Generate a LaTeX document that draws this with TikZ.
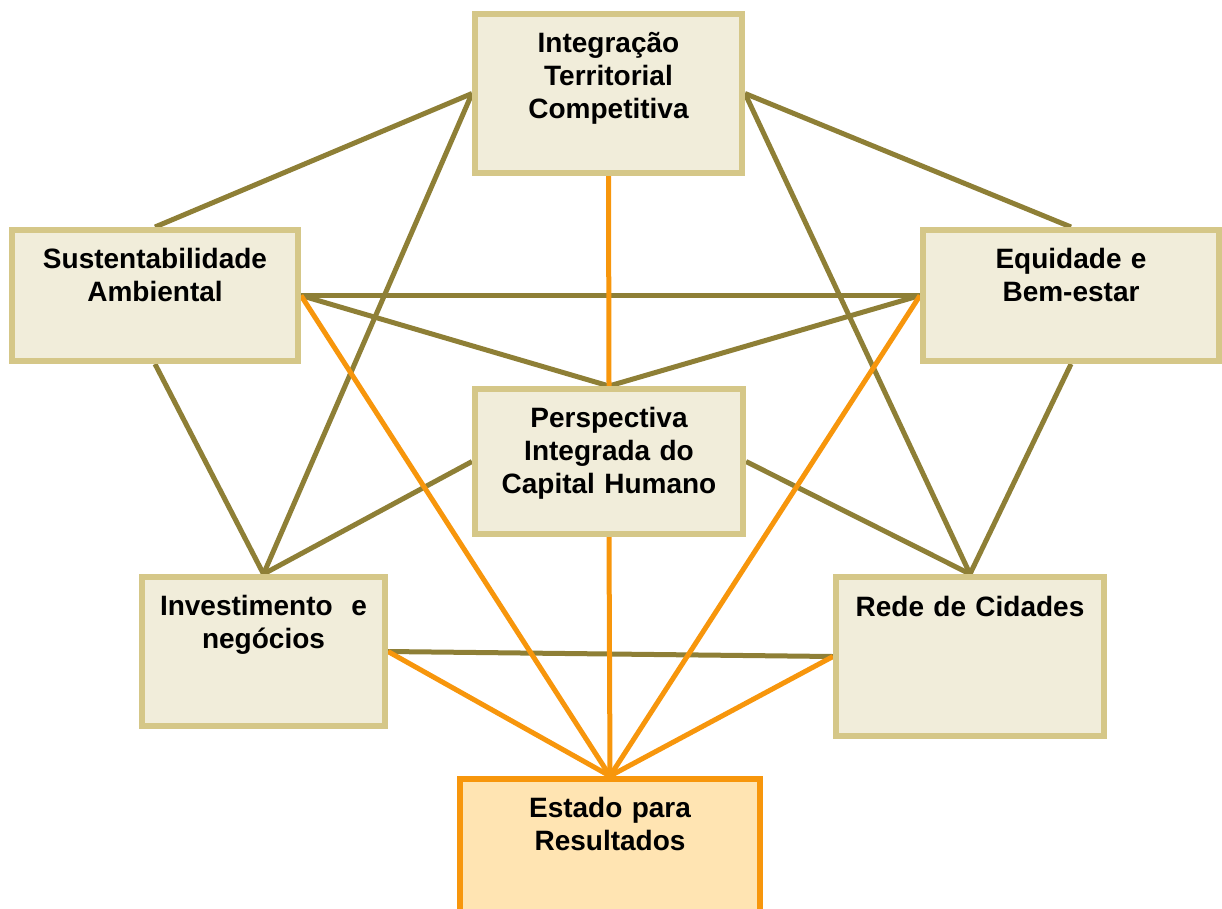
\documentclass[tikz,border=0pt]{standalone}
\usepackage{fontspec}
\setmainfont{Liberation Sans}
\usetikzlibrary{calc,backgrounds}
\definecolor{boxfill}{HTML}{F1EDDA}
\definecolor{boxline}{HTML}{D5C788}
\definecolor{olive}{HTML}{8E7F36}
\definecolor{orng}{HTML}{F7960C}
\definecolor{estfill}{HTML}{FFE4B2}
\tikzset{
  box/.style={draw=boxline, fill=boxfill, line width=6pt, rectangle, inner sep=0pt},
  estbox/.style={draw=orng, fill=estfill, line width=6pt, rectangle, inner sep=0pt},
  lbl/.style={anchor=base, inner sep=0pt, text width=300pt, align=center,
    font=\bfseries\fontsize{28}{33}\selectfont},
  oline/.style={draw=olive, line width=5pt},
  rline/.style={draw=orng, line width=5pt}
}
\begin{document}
\begin{tikzpicture}[x=1pt,y=-1pt]
\useasboundingbox (0,0) rectangle (1222,908);
\clip (0,0) rectangle (1222,908);
\node[box, minimum width=267pt, minimum height=159pt] (b1) at (608.5,93.5) {};
\node[box, minimum width=286pt, minimum height=131pt] (b2) at (155,295.5) {};
\node[box, minimum width=296pt, minimum height=131pt] (b3) at (1071,295.5) {};
\node[box, minimum width=268pt, minimum height=145pt] (b4) at (609,461.5) {};
\node[box, minimum width=243pt, minimum height=149pt] (b5) at (263.5,651.5) {};
\node[box, minimum width=268pt, minimum height=159pt] (b6) at (970,656.5) {};
\node[estbox, minimum width=300pt, minimum height=161pt] (b7) at (610,859.5) {};

\node[lbl] (t1) at ($(b1.north)+(0,41)$) {Integração\\Territorial\\Competitiva};
\node[lbl] (t2) at ($(b2.north)+(0,41)$) {Sustentabilidade\\Ambiental};
\node[lbl] (t3) at ($(b3.north)+(0,41)$) {Equidade e\\Bem-estar};
\node[lbl] (t4) at ($(b4.north)+(0,41)$) {Perspectiva\\Integrada do\\Capital Humano};
\node[lbl] (t5) at ($(b5.north)+(0,41)$) {Investimento\ \ e\\negócios};
\node[lbl] (t6) at ($(b6.north)+(0,42)$) {Rede de Cidades};
\node[lbl] (t7) at ($(b7.north)+(0,41)$) {Estado para\\Resultados};

\begin{scope}[on background layer]
\draw[oline] (b1.west) -- (b2.north);
\draw[oline] (b1.west) -- (b5.north);
\draw[oline] (b1.east) -- (b3.north);
\draw[oline] (b1.east) -- (b6.north);
\draw[oline] (b2.east) -- (b3.west);
\draw[oline] (b2.east) -- (b4.north);
\draw[oline] (b3.west) -- (b4.north);
\draw[oline] (b2.south) -- (b5.north);
\draw[oline] (b3.south) -- (b6.north);
\draw[oline] (b4.west) -- (b5.north);
\draw[oline] (b4.east) -- (b6.north);
\draw[oline] (b5.east) -- (b6.west);
\draw[rline] (b1.south) -- (b4.north);
\draw[rline] (b2.east) -- (b7.north);
\draw[rline] (b3.west) -- (b7.north);
\draw[rline] (b5.east) -- (b7.north);
\draw[rline] (b6.west) -- (b7.north);
\draw[rline] (b4.south) -- (b7.north);
\end{scope}
\end{tikzpicture}
\end{document}
